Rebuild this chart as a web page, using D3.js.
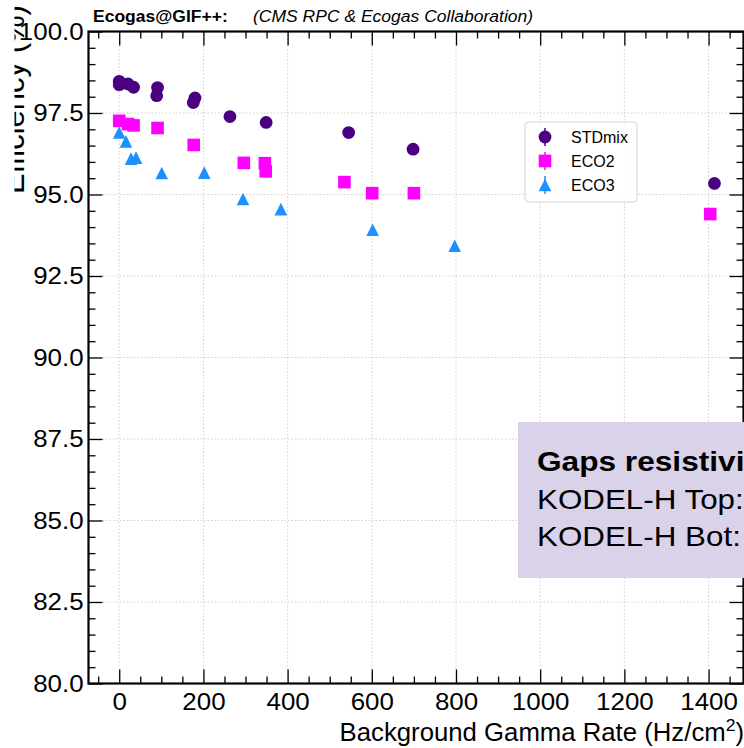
<!DOCTYPE html>
<html>
<head>
<meta charset="utf-8">
<script src="https://cdn.jsdelivr.net/npm/d3@7"></script>
<style>
  body { margin: 0; background: #fff; }
  svg { display: block; }
</style>
</head>
<body>
<div id="chart"></div>
<script>
// data
var seriesNames = ["STDmix", "ECO2", "ECO3"];
var seriesColors = ["#4b0082", "#ff00ff", "#1e90ff"];

var stdmixRate = [0, 0, 21, 34, 91, 89, 180, 176, 263, 349, 545, 698, 1414];
var stdmixEff = [98.47, 98.37, 98.39, 98.29, 98.28, 98.03, 97.96, 97.82, 97.39, 97.21, 96.90, 96.39, 95.34];

var eco2Rate = [0, 21, 34, 91, 177, 296, 346, 348, 535, 601, 700, 1404];
var eco2Eff = [97.26, 97.16, 97.12, 97.04, 96.52, 95.97, 95.96, 95.71, 95.38, 95.04, 95.04, 94.40];

var eco3Rate = [0, 16, 28, 40, 101, 202, 294, 384, 602, 797];
var eco3Eff = [96.90, 96.63, 96.10, 96.13, 95.66, 95.67, 94.86, 94.55, 93.92, 93.43];

var xTicks = [0, 200, 400, 600, 800, 1000, 1200, 1400];
var xMinor = d3.range(-50, 1500, 50).filter(function(v) { return v % 200 !== 0; });
var yTicks = [80, 82.5, 85, 87.5, 90, 92.5, 95, 97.5, 100];
var yMinor = d3.range(80.5, 100, 0.5).filter(function(v) { return Math.abs(v / 2.5 - Math.round(v / 2.5)) > 1e-6; });

var boxLines = ["Gaps resistivity:", "KODEL-H Top:", "KODEL-H Bot:"];

var W = 744, H = 748;
var padL = 88.5, padR = 743.5, padT = 31.5, padB = 683.5;
var font = "'Liberation Sans', Arial, Helvetica, sans-serif";

var svg = d3.select("#chart").append("svg")
    .attr("width", W)
    .attr("height", H);

svg.append("rect").attr("width", W).attr("height", H).attr("fill", "#fff");

var x = d3.scaleLinear().domain([-73, 1483]).range([padL, padR]);
var y = d3.scaleLinear().domain([80, 100]).range([padB, padT]);

// the original's lettering runs a bit wide, so stretch text sideways
function label(px, py, sx, size) {
    return svg.append("text")
        .attr("transform", "translate(" + px + "," + py + ") scale(" + sx + ",1)")
        .attr("font-family", font).attr("font-size", size).attr("fill", "#000");
}

// grid
var grid = svg.append("g").attr("stroke", "#c4c4c4").attr("stroke-width", 0.8).attr("stroke-dasharray", "1.5,2");
grid.selectAll(".gx").data(xTicks).enter().append("line")
    .attr("x1", function(d) { return x(d); }).attr("x2", function(d) { return x(d); })
    .attr("y1", padT).attr("y2", padB);
grid.selectAll(".gy").data(yTicks).enter().append("line")
    .attr("x1", padL).attr("x2", padR)
    .attr("y1", function(d) { return y(d); }).attr("y2", function(d) { return y(d); });

// axes, ticks pointing in
function styleAxis(g) {
    g.select(".domain").remove();
    g.selectAll(".tick line").attr("stroke", "#000").attr("stroke-width", 1.3);
    g.attr("font-family", font).attr("font-size", 24);
    g.selectAll(".tick text").attr("fill", "#000").attr("transform", "scale(1.08,1)");
}

svg.append("g").attr("transform", "translate(0," + padB + ")")
    .call(d3.axisBottom(x).tickValues(xTicks).tickSize(-14).tickPadding(9).tickFormat(d3.format("d")))
    .call(styleAxis);
svg.append("g").attr("transform", "translate(0," + padB + ")")
    .call(d3.axisBottom(x).tickValues(xMinor).tickSize(-7).tickFormat(""))
    .call(styleAxis);
svg.append("g").attr("transform", "translate(0," + padT + ")")
    .call(d3.axisTop(x).tickValues(xTicks).tickSize(-14).tickFormat(""))
    .call(styleAxis);
svg.append("g").attr("transform", "translate(0," + padT + ")")
    .call(d3.axisTop(x).tickValues(xMinor).tickSize(-7).tickFormat(""))
    .call(styleAxis);

svg.append("g").attr("transform", "translate(" + padL + ",0)")
    .call(d3.axisLeft(y).tickValues(yTicks).tickSize(-14).tickPadding(4.5).tickFormat(d3.format(".1f")))
    .call(styleAxis);
svg.append("g").attr("transform", "translate(" + padL + ",0)")
    .call(d3.axisLeft(y).tickValues(yMinor).tickSize(-7).tickFormat(""))
    .call(styleAxis);
svg.append("g").attr("transform", "translate(" + padR + ",0)")
    .call(d3.axisRight(y).tickValues(yTicks).tickSize(-14).tickFormat(""))
    .call(styleAxis);
svg.append("g").attr("transform", "translate(" + padR + ",0)")
    .call(d3.axisRight(y).tickValues(yMinor).tickSize(-7).tickFormat(""))
    .call(styleAxis);

// frame
svg.append("rect")
    .attr("x", padL).attr("y", padT)
    .attr("width", padR - padL).attr("height", padB - padT)
    .attr("fill", "none").attr("stroke", "#000").attr("stroke-width", 2.2);

// markers
function triPath(cx, cy, s) {
    return "M" + cx + "," + (cy - s) + "L" + (cx + s) + "," + (cy + s) + "L" + (cx - s) + "," + (cy + s) + "Z";
}

var stdPts = stdmixRate.map(function(r, i) { return { r: r, e: stdmixEff[i] }; });
var eco2Pts = eco2Rate.map(function(r, i) { return { r: r, e: eco2Eff[i] }; });
var eco3Pts = eco3Rate.map(function(r, i) { return { r: r, e: eco3Eff[i] }; });

svg.append("g").selectAll("circle").data(stdPts).enter().append("circle")
    .attr("cx", function(d) { return x(d.r); })
    .attr("cy", function(d) { return y(d.e); })
    .attr("r", 6.4)
    .attr("fill", seriesColors[0]);

svg.append("g").selectAll("rect").data(eco2Pts).enter().append("rect")
    .attr("x", function(d) { return x(d.r) - 6.3; })
    .attr("y", function(d) { return y(d.e) - 6.3; })
    .attr("width", 12.6).attr("height", 12.6)
    .attr("fill", seriesColors[1]);

svg.append("g").selectAll("path").data(eco3Pts).enter().append("path")
    .attr("d", function(d) { return triPath(x(d.r), y(d.e), 6.3); })
    .attr("fill", seriesColors[2]);

// legend
var legend = svg.append("g");
legend.append("rect")
    .attr("x", 525).attr("y", 122).attr("width", 112).attr("height", 80).attr("rx", 4)
    .attr("fill", "#fff").attr("fill-opacity", 0.85)
    .attr("stroke", "#d4d4d4").attr("stroke-width", 1);
var legRows = legend.selectAll(".row").data(seriesNames).enter().append("g")
    .attr("transform", function(d, i) { return "translate(545," + (137 + i * 24) + ")"; });
legRows.append("line")
    .attr("y1", -9).attr("y2", 9)
    .attr("stroke", function(d, i) { return seriesColors[i]; }).attr("stroke-width", 1.5);
legRows.each(function(d, i) {
    var g = d3.select(this);
    if (i === 0) g.append("circle").attr("r", 6.4).attr("fill", seriesColors[0]);
    if (i === 1) g.append("rect").attr("x", -6.3).attr("y", -6.3).attr("width", 12.6).attr("height", 12.6).attr("fill", seriesColors[1]);
    if (i === 2) g.append("path").attr("d", triPath(0, 0, 6.3)).attr("fill", seriesColors[2]);
});
legRows.append("text")
    .attr("x", 26).attr("dy", "0.36em")
    .attr("font-family", font).attr("font-size", 16)
    .text(function(d) { return d; });

// annotation box
svg.append("rect")
    .attr("x", 518).attr("y", 422).attr("width", 300).attr("height", 156)
    .attr("fill", "#d9d2e9");
boxLines.forEach(function(t, i) {
    label(537, [471, 509, 546][i], i === 0 ? 1.13 : 1.12, 28)
        .attr("font-weight", i === 0 ? "bold" : "normal")
        .text(t);
});

// header
label(93, 22, 1.03, 17).attr("font-weight", "bold").text("Ecogas@GIF++:");
label(253, 22, 1.03, 17).attr("font-style", "italic").text("(CMS RPC & Ecogas Collaboration)");

// x label
var xl = label(744, 741, 1.03, 25).attr("text-anchor", "end");
xl.append("tspan").text("Background Gamma Rate (Hz/cm");
xl.append("tspan").attr("dy", -10).attr("font-size", 17).text("2");
xl.append("tspan").attr("dy", 10).text(")");

// y label, cut at the left like the original
svg.append("clipPath").attr("id", "ylclip")
    .append("rect").attr("x", 14.5).attr("y", 0).attr("width", 40).attr("height", 230);
svg.append("g").attr("clip-path", "url(#ylclip)")
    .append("text")
    .attr("transform", "translate(24,194) rotate(-90)")
    .attr("font-family", font).attr("font-size", 31)
    .text("Efficiency (%)");
</script>
</body>
</html>
